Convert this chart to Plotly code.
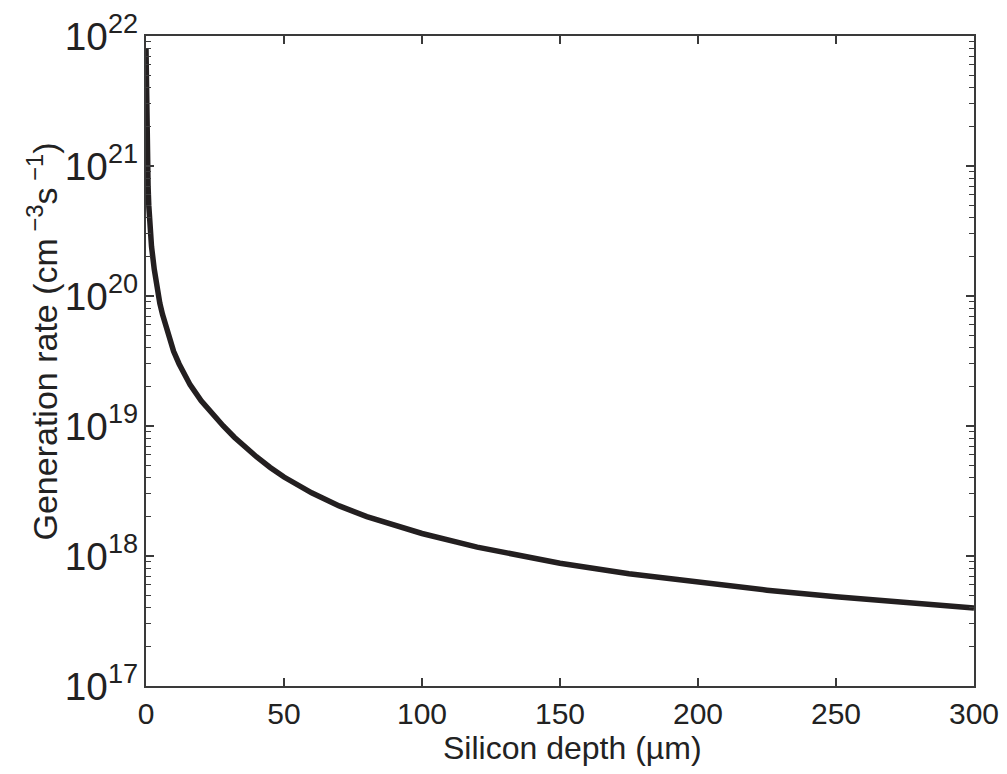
import plotly.graph_objects as go

depth_um = [0, 0.1, 0.25, 0.5, 0.75, 1, 1.5, 2, 3, 4, 5, 6, 8, 10, 12, 14, 16, 20, 24, 28, 32, 36, 40,
            45, 50, 60, 70, 80, 90, 100, 120, 150, 175, 200, 225, 250, 275, 300]
gen_rate = [8e21, 4e21, 2e21, 1.05e21, 7e20, 5e20, 3.2e20, 2.4e20, 1.6e20, 1.15e20, 8.8e19, 7.2e19, 5.1e19,
            3.75e19, 3.0e19, 2.45e19, 2.07e19, 1.56e19, 1.23e19, 1.0e19, 8.2e18, 6.85e18, 5.8e18,
            4.8e18, 4.05e18, 3.06e18, 2.43e18, 2.01e18, 1.71e18, 1.49e18, 1.17e18, 8.8e17,
            7.3e17, 6.25e17, 5.46e17, 4.85e17, 4.37e17, 3.98e17]

x_ticks = [0, 50, 100, 150, 200, 250, 300]
y_range_log = [17, 22]
x_title = "Silicon depth (\u00b5m)"
y_title = "Generation rate (cm<sup> \u22123</sup>s<sup> \u22121</sup>)"

FONT = "Liberation Sans, Arial, Helvetica, sans-serif"
TXT = "#222"

fig = go.Figure()
fig.add_trace(go.Scatter(
    x=depth_um, y=gen_rate, mode="lines",
    line=dict(color="#231f20", width=5.5),
    showlegend=False,
))

axis_common = dict(
    showline=True, linecolor="#3a3a3a", linewidth=1.5, mirror="ticks",
    ticks="inside", tickcolor="#3a3a3a", tickwidth=1.5, ticklen=8,
    showgrid=False, zeroline=False, automargin=False,
)

fig.update_xaxes(
    range=[0, 300], tickvals=x_ticks,
    tickfont=dict(family=FONT, size=30, color=TXT),
    ticklabelstandoff=0,
    **axis_common,
)
fig.update_yaxes(
    type="log", range=y_range_log, dtick=1, exponentformat="power",
    tickfont=dict(family=FONT, size=31, color=TXT),
    minor=dict(ticks="inside", ticklen=5, tickcolor="#3a3a3a", tickwidth=1.2, dtick="D1", showgrid=False),
    **axis_common,
)

fig.add_annotation(
    text=x_title, xref="paper", yref="paper", x=0.5157, y=0,
    xanchor="center", yanchor="middle", yshift=-62, showarrow=False,
    font=dict(family=FONT, size=32, color=TXT),
)
fig.add_annotation(
    text=y_title, xref="paper", yref="paper", x=0, y=0.53,
    xanchor="center", yanchor="middle", xshift=-104, textangle=-90, showarrow=False,
    font=dict(family=FONT, size=34, color=TXT),
)

# page body has an 8px margin; figure sized so the plot area lands at x 146-974, y 36-686
fig.update_layout(
    width=999, height=766,
    margin=dict(l=138, r=33, t=28, b=88),
    paper_bgcolor="white", plot_bgcolor="white",
)

fig.write_html("out.html")
